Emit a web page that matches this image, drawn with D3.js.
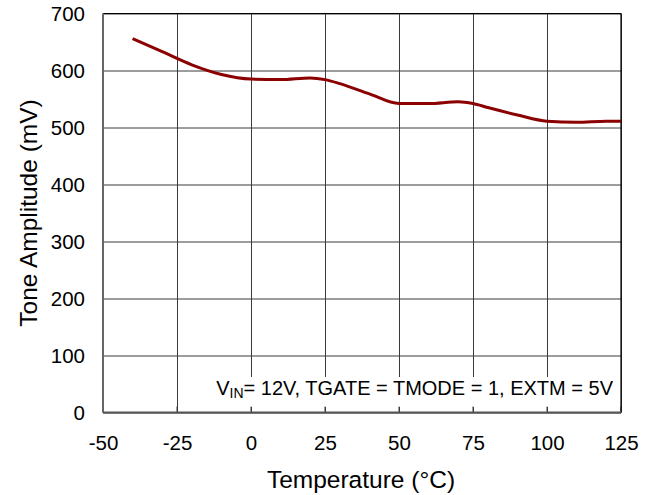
<!DOCTYPE html>
<head>
<meta charset="utf-8">
<style>
    body { margin: 0; background: #fff; }
    text { font-family: "Liberation Sans", Arial, sans-serif; fill: #000; }
    .grid line { stroke: #3a3a3a; stroke-width: 1; }
    .grid path { display: none; }
    .labels path, .labels line { display: none; }
</style>
</head>
<body>
    <script src="https://d3js.org/d3.v7.min.js"></script>
    <script>

    ///////////////////////////
    ////////// SETUP //////////
    ///////////////////////////

    const margin = { top: 13.5, right: 35, bottom: 82.5, left: 103 };
    const width = 656 - margin.left - margin.right;
    const height = 495 - margin.top - margin.bottom;

    let svg = d3.select('body').append('svg')
        .attr('width', 656)
        .attr('height', 495);
    let base = svg.append('g')
        .attr('transform', 'translate(' + margin.left + ',' + margin.top + ')');

    //////////////////////////
    ////////// DATA //////////
    //////////////////////////

    const temperature = [-40, -30, -20, -10, 0, 10, 20, 25, 30, 40, 50, 60, 70, 75, 80, 90, 100, 110, 120, 125];
    const amplitude = [656, 633, 610, 593, 585, 584, 587, 584, 577, 559, 542, 542, 545, 542, 535, 522, 511, 509, 511, 511];
    const xTicks = [-50, -25, 0, 25, 50, 75, 100, 125];
    const yTicks = [0, 100, 200, 300, 400, 500, 600, 700];

    const points = temperature.map((t, i) => ({ t: t, v: amplitude[i] }));

    //////////////////////////
    ////////// DRAW //////////
    //////////////////////////

    const x = d3.scaleLinear().domain([-50, 125]).range([0, width]);
    const y = d3.scaleLinear().domain([0, 700]).range([height, 0]);

    // grid
    base.append('g').attr('class', 'grid')
        .attr('transform', 'translate(0,' + height + ')')
        .call(d3.axisBottom(x).tickValues(xTicks).tickSize(-height).tickFormat(''));
    base.append('g').attr('class', 'grid')
        .call(d3.axisLeft(y).tickValues(yTicks).tickSize(-width).tickFormat(''));

    // condition label with white box
    base.append('rect')
        .attr('x', 98).attr('y', 363.5)
        .attr('width', width - 98).attr('height', 30)
        .attr('fill', '#fff');

    // inward ticks on the bottom axis
    base.append('g')
        .selectAll('line')
        .data(xTicks)
        .join('line')
        .attr('x1', d => x(d)).attr('x2', d => x(d))
        .attr('y1', height).attr('y2', height - 6)
        .attr('stroke', '#3a3a3a');

    let note = base.append('text')
        .attr('x', 510).attr('y', 381.5)
        .attr('text-anchor', 'end')
        .style('font-size', '20px');
    note.append('tspan').text('V');
    note.append('tspan').attr('dy', 3).style('font-size', '14px').text('IN');
    note.append('tspan').attr('dy', -3).text('= 12V, TGATE = TMODE = 1, EXTM = 5V');

    // frame
    base.append('line').attr('x1', 0).attr('x2', width).attr('y1', 0).attr('y2', 0)
        .attr('stroke', '#000').attr('stroke-width', 1.2);
    base.append('line').attr('x1', width).attr('x2', width).attr('y1', 0).attr('y2', height)
        .attr('stroke', '#000').attr('stroke-width', 1.2);
    base.append('line').attr('x1', 0).attr('x2', 0).attr('y1', 0).attr('y2', height)
        .attr('stroke', '#666').attr('stroke-width', 2);
    base.append('line').attr('x1', 0).attr('x2', width).attr('y1', height).attr('y2', height)
        .attr('stroke', '#555').attr('stroke-width', 2);

    // tick labels (plain hyphen for negatives, as in the original)
    base.append('g').attr('class', 'labels')
        .attr('transform', 'translate(0,' + height + ')')
        .call(d3.axisBottom(x).tickValues(xTicks).tickSize(0).tickPadding(23).tickFormat(d => String(d)))
        .selectAll('text').style('font-size', '20.5px').attr('fill', '#000');
    base.append('g').attr('class', 'labels')
        .call(d3.axisLeft(y).tickValues(yTicks).tickSize(0).tickPadding(18).tickFormat(d => String(d)))
        .selectAll('text').style('font-size', '20.5px').attr('fill', '#000');
    svg.selectAll('.labels').attr('font-family', null).attr('font-size', null);

    // curve
    const line = d3.line()
        .curve(d3.curveMonotoneX)
        .x(d => x(d.t))
        .y(d => y(d.v));

    base.append('path')
        .attr('d', line(points))
        .attr('fill', 'none')
        .attr('stroke', '#8b0000')
        .attr('stroke-width', 3);

    // axis titles
    svg.append('text')
        .attr('x', 361).attr('y', 487.5)
        .attr('text-anchor', 'middle')
        .style('font-size', '24.5px')
        .text('Temperature (°C)');
    svg.append('text')
        .attr('transform', 'translate(37,213) rotate(-90)')
        .attr('text-anchor', 'middle')
        .style('font-size', '24.5px')
        .text('Tone Amplitude (mV)');

    </script>
</body>
